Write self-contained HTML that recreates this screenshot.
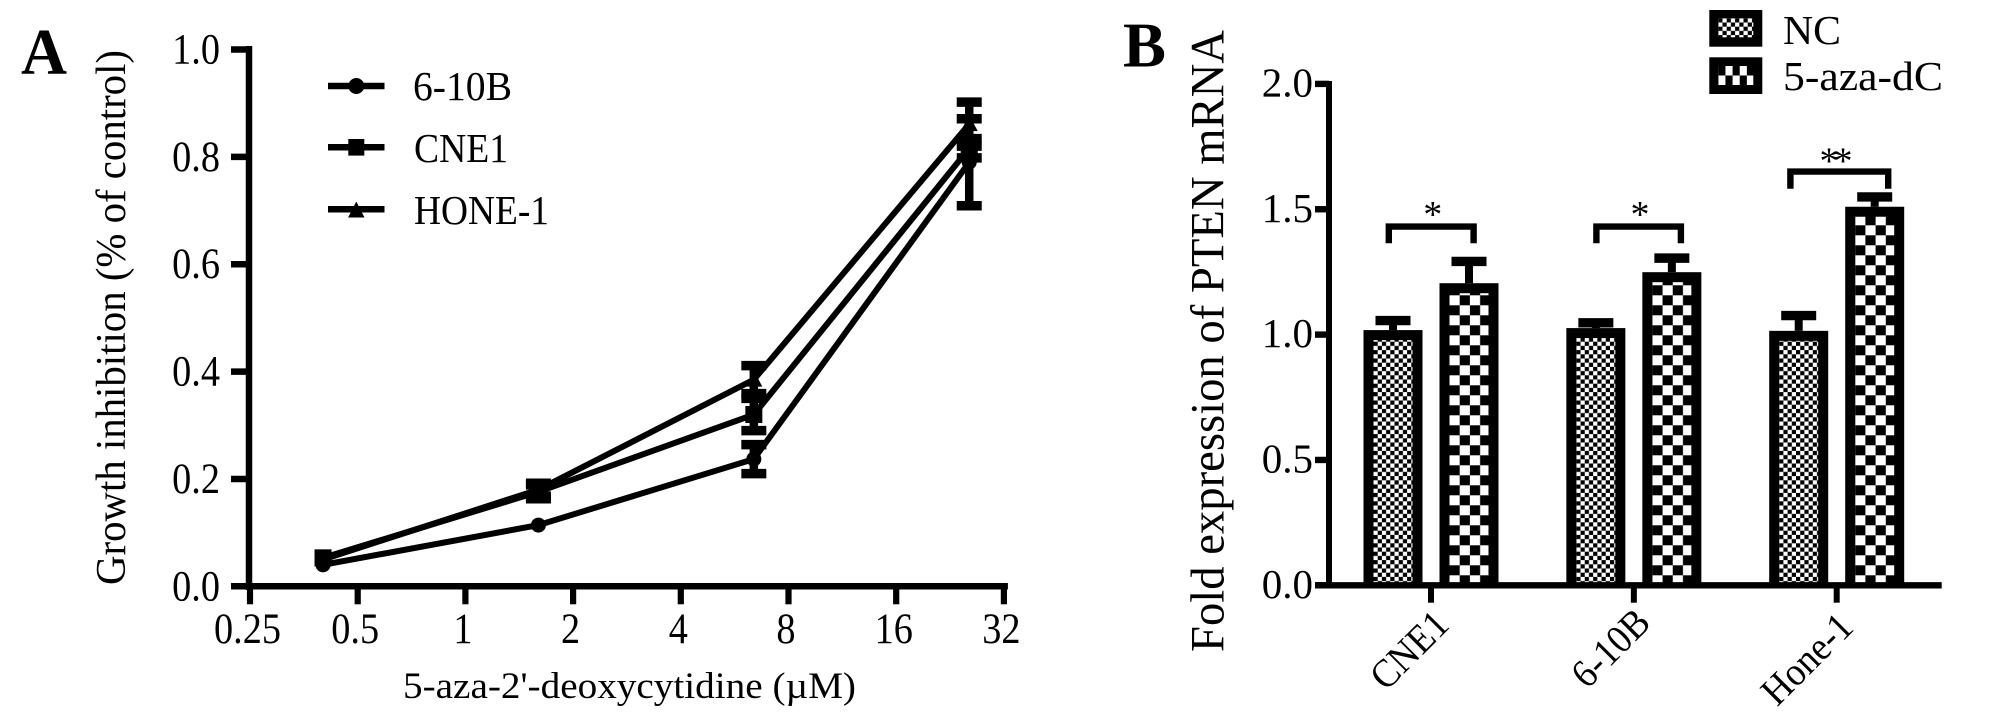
<!DOCTYPE html>
<html lang="en">
<head>
<meta charset="utf-8">
<title>Growth inhibition and PTEN mRNA expression</title>
<style>
html,body{margin:0;padding:0;background:#fff;}
svg{display:block;}
text{font-family:"Liberation Serif","DejaVu Serif",serif;fill:#000;}
</style>
</head>
<body>
<svg id="fig" xmlns="http://www.w3.org/2000/svg" width="2008" height="723" viewBox="0 0 2008 723">
  <defs>
    <pattern id="check-fine" patternUnits="userSpaceOnUse" width="8.4" height="8.4">
      <rect width="8.4" height="8.4" fill="#fff"/>
      <rect width="4.2" height="4.2" fill="#000"/>
      <rect x="4.2" y="4.2" width="4.2" height="4.2" fill="#000"/>
    </pattern>
    <pattern id="check-coarse" patternUnits="userSpaceOnUse" width="20.4" height="20">
      <rect width="20.4" height="20" fill="#fff"/>
      <rect width="10.2" height="10" fill="#000"/>
      <rect x="10.2" y="10" width="10.2" height="10" fill="#000"/>
    </pattern>
  </defs>

  <rect x="0" y="0" width="2008" height="723" fill="#fff"/>

  <!-- Panel A static text -->
  <text x="21" y="74" font-size="66" font-weight="bold" textLength="46" lengthAdjust="spacingAndGlyphs">A</text>
  <text transform="translate(125,585) rotate(-90)" font-size="42" textLength="535" lengthAdjust="spacingAndGlyphs">Growth inhibition (% of control)</text>
  <text x="403" y="698" font-size="37" textLength="453" lengthAdjust="spacingAndGlyphs">5-aza-2'-deoxycytidine (µM)</text>

  <g id="panel-a"></g>

  <!-- Panel A legend -->
  <g>
    <g>
      <line x1="328" y1="86" x2="384.5" y2="86" stroke="#000" stroke-width="6.5"/>
      <circle cx="356.3" cy="86" r="8" fill="#000"/>
      <text x="413" y="100" font-size="41" textLength="99" lengthAdjust="spacingAndGlyphs">6-10B</text>
    </g>
    <g>
      <line x1="328" y1="147.3" x2="384.5" y2="147.3" stroke="#000" stroke-width="6.5"/>
      <rect x="348.3" y="139" width="16" height="16.6" fill="#000"/>
      <text x="414" y="162" font-size="41" textLength="94" lengthAdjust="spacingAndGlyphs">CNE1</text>
    </g>
    <g>
      <line x1="328" y1="209.3" x2="384.5" y2="209.3" stroke="#000" stroke-width="6.5"/>
      <polygon points="356.3,201.5 364.5,217.5 348.1,217.5" fill="#000"/>
      <text x="414" y="224" font-size="41" textLength="135" lengthAdjust="spacingAndGlyphs">HONE-1</text>
    </g>
  </g>

  <!-- Panel B static text -->
  <text x="1123" y="66.7" font-size="63" font-weight="bold" textLength="43" lengthAdjust="spacingAndGlyphs">B</text>
  <text transform="translate(1223.3,652) rotate(-90)" font-size="48" textLength="622" lengthAdjust="spacingAndGlyphs">Fold expression of PTEN mRNA</text>

  <g id="panel-b"></g>

  <!-- Panel B significance annotations -->
  <g>
    <path d="M1388.8,243.3 V226.6 H1473.6 V243.3" fill="none" stroke="#000" stroke-width="6.4"/>
    <text x="1432.7" y="227" font-size="38" text-anchor="middle">*</text>
    <path d="M1596.4,243.3 V226.6 H1680.9 V243.3" fill="none" stroke="#000" stroke-width="6.4"/>
    <text x="1640" y="227" font-size="38" text-anchor="middle">*</text>
    <path d="M1790.4,188.7 V171.6 H1888.2 V188.7" fill="none" stroke="#000" stroke-width="6.4"/>
    <text x="1833.5" y="173.5" font-size="38" text-anchor="middle" letter-spacing="-5">**</text>
  </g>

  <!-- Panel B legend -->
  <g>
    <g>
      <rect x="1709.3" y="10" width="53" height="36.7" fill="#000"/>
      <g transform="translate(1718.3,18.3)">
        <rect width="35" height="19" fill="url(#check-fine)"/>
      </g>
      <text x="1783" y="44" font-size="41" textLength="58" lengthAdjust="spacingAndGlyphs">NC</text>
    </g>
    <g>
      <rect x="1709.3" y="57.3" width="53" height="36.7" fill="#000"/>
      <g transform="translate(1718.3,66)">
        <rect width="50" height="20" fill="url(#check-coarse)" transform="scale(.7 .95)"/>
      </g>
      <text x="1783" y="90" font-size="41" textLength="160" lengthAdjust="spacingAndGlyphs">5-aza-dC</text>
    </g>
  </g>
</svg>

<script>
// ---- Panel A data ----
const doseCategories = [0.4, 1.6, 6.4, 25.6];
const doseTickValues = [0.25, 0.5, 1, 2, 4, 8, 16, 32];
const doseTickLabels = ['0.25', '0.5', '1', '2', '4', '8', '16', '32'];
const inhibitionTickValues = [0, 0.2, 0.4, 0.6, 0.8, 1.0];
const inhibitionTickLabels = ['0.0', '0.2', '0.4', '0.6', '0.8', '1.0'];
const line610bValues = [0.04, 0.114, 0.237, 0.79];
const line610bErrors = [0, 0, 0.027, 0.081];
const lineCne1Values = [0.053, 0.176, 0.32, 0.816];
const lineCne1Errors = [0, 0.013, 0.03, 0.018];
const lineHone1Values = [0.05, 0.18, 0.385, 0.861];
const lineHone1Errors = [0, 0.012, 0.026, 0.041];

// ---- Panel B data ----
const cellLineCategories = ['CNE1', '6-10B', 'Hone-1'];
const foldTickValues = [0, 0.5, 1.0, 1.5, 2.0];
const foldTickLabels = ['0.0', '0.5', '1.0', '1.5', '2.0'];
const ncValues = [1.018, 1.026, 1.015];
const ncErrors = [0.038, 0.021, 0.061];
const azaValues = [1.205, 1.249, 1.51];
const azaErrors = [0.087, 0.056, 0.039];

const SVGNS = 'http://www.w3.org/2000/svg';
function add(parent, tag, attrs) {
  const el = document.createElementNS(SVGNS, tag);
  for (const k in attrs) el.setAttribute(k, attrs[k]);
  parent.appendChild(el);
  return el;
}

// ---- Panel A axes ----
const xA = v => 250 + 107.7 * Math.log2(v / 0.25);
const yA = v => 586.3 - 536.8 * v;
const gA = document.getElementById('panel-a');

const marksA = add(gA, 'g', {});



function drawSeries(name, values, errors, markerKind) {
  const series = add(marksA, 'g', {});
  
  
  values.forEach((v, i) => {
    if (!errors[i]) return;
    const x = xA(doseCategories[i]);
    const hi = yA(v + errors[i]);
    const lo = yA(v - errors[i]);
    const stem = add(series, 'line', {x1: x, x2: x, y1: hi, y2: lo, stroke: '#000', 'stroke-width': 8.5});
    
    
    [hi, lo].forEach(cy => {
      const cap = add(series, 'line', {x1: x - 12.5, x2: x + 12.5, y1: cy, y2: cy, stroke: '#000', 'stroke-width': 9.5});
      
      
    });
  });
  const pts = values.map((v, i) => xA(doseCategories[i]) + ',' + yA(v)).join(' ');
  const line = add(series, 'polyline', {points: pts, fill: 'none', stroke: '#000', 'stroke-width': 6, 'stroke-linejoin': 'miter'});
  
  
  values.forEach((v, i) => {
    const x = xA(doseCategories[i]);
    const y = yA(v);
    let m;
    if (markerKind === 'circle') {
      m = add(series, 'circle', {cx: x, cy: y, r: 7.5, fill: '#000'});
    } else if (markerKind === 'square') {
      m = add(series, 'rect', {x: x - 8.5, y: y - 8.5, width: 17, height: 17, fill: '#000'});
    } else {
      m = add(series, 'polygon', {points: (x) + ',' + (y - 9) + ' ' + (x + 8.5) + ',' + (y + 7) + ' ' + (x - 8.5) + ',' + (y + 7), fill: '#000'});
    }
    
    
  });
}
drawSeries('6-10b', line610bValues, line610bErrors, 'circle');
drawSeries('cne1', lineCne1Values, lineCne1Errors, 'square');
drawSeries('hone-1', lineHone1Values, lineHone1Errors, 'triangle');

const yAxisA = add(gA, 'line', {x1: 249, x2: 249, y1: 46, y2: 590, stroke: '#000', 'stroke-width': 6.5});


const xAxisA = add(gA, 'line', {x1: 232, x2: xA(32) + 4, y1: yA(0), y2: yA(0), stroke: '#000', 'stroke-width': 6.5});



inhibitionTickValues.forEach((v, i) => {
  const y = yA(v);
  const t = add(gA, 'line', {x1: 231, x2: 249, y1: y, y2: y, stroke: '#000', 'stroke-width': 6.5});
  
  
  const l = add(gA, 'text', {transform: 'translate(220,' + (y + 14) + ') scale(0.89,1)', 'font-size': 43, 'text-anchor': 'end'});
  l.textContent = inhibitionTickLabels[i];
  
  
});
doseTickValues.forEach((v, i) => {
  const x = xA(v);
  const t = add(gA, 'line', {x1: x, x2: x, y1: yA(0), y2: 604.3, stroke: '#000', 'stroke-width': 6.2});
  
  
  const l = add(gA, 'text', {transform: 'translate(' + (x - 2.5) + ',643) scale(0.89,1)', 'font-size': 43, 'text-anchor': 'middle'});
  l.textContent = doseTickLabels[i];
  
  
});

// ---- Panel B axes ----
const xB = i => 1431 + 202.85 * i;
const yB = v => 585.3 - 250.7 * v;
const gB = document.getElementById('panel-b');
const barWidth = 59;
const barBorder = 10;
const barOffset = 38;

function drawBar(groupName, i, value, error, side, patternId) {
  const cx = xB(i) + side * barOffset;
  const top = yB(value);
  const base = yB(0);
  const capY = yB(value + error);
  const g = add(gB, 'g', {});
  
  
  const stem = add(g, 'line', {x1: cx, x2: cx, y1: capY, y2: top, stroke: '#000', 'stroke-width': 8});
  
  
  const cap = add(g, 'line', {x1: cx - 17.5, x2: cx + 17.5, y1: capY, y2: capY, stroke: '#000', 'stroke-width': 9.4});
  
  
  const outer = add(g, 'rect', {x: cx - barWidth / 2, y: top, width: barWidth, height: base - top, fill: '#000'});
  
  
  const holder = add(g, 'g', {transform: 'translate(' + (cx - barWidth / 2 + barBorder) + ',' + base + ')'});
  
  
  const inner = add(holder, 'rect', {x: 0, y: top + barBorder - base, width: barWidth - 2 * barBorder, height: base - top - barBorder, fill: 'url(#' + patternId + ')'});
  
  
}

cellLineCategories.forEach((name, i) => {
  drawBar('nc-' + name.toLowerCase(), i, ncValues[i], ncErrors[i], -1, 'check-fine');
  drawBar('aza-' + name.toLowerCase(), i, azaValues[i], azaErrors[i], 1, 'check-coarse');
  const x = xB(i);
  const t = add(gB, 'line', {x1: x, x2: x, y1: yB(0), y2: 602.7, stroke: '#000', 'stroke-width': 6});
  
  
  const anchorDy = i === 2 ? 44 : (i === 1 ? 39.5 : 41.5);
  const anchorDx = i === 2 ? 18.5 : (i === 1 ? 18.5 : 20);
  const l = add(gB, 'text', {transform: 'translate(' + (x + anchorDx) + ',' + (yB(0) + anchorDy) + ') rotate(-45) scale(0.92,1)', 'font-size': 40, 'text-anchor': 'end'});
  l.textContent = name;
  
  
});

const yAxisB = add(gB, 'line', {x1: 1329, x2: 1329, y1: 81, y2: 588, stroke: '#000', 'stroke-width': 6});


const xAxisB = add(gB, 'line', {x1: 1315, x2: 1941.7, y1: yB(0), y2: yB(0), stroke: '#000', 'stroke-width': 6.4});



foldTickValues.forEach((v, i) => {
  const y = yB(v);
  const t = add(gB, 'line', {x1: 1315, x2: 1329, y1: y, y2: y, stroke: '#000', 'stroke-width': 6.4});
  
  
  const l = add(gB, 'text', {x: 1313, y: y + 12.5, 'font-size': 41, 'text-anchor': 'end'});
  l.textContent = foldTickLabels[i];
  
  
});
</script>
</body>
</html>
